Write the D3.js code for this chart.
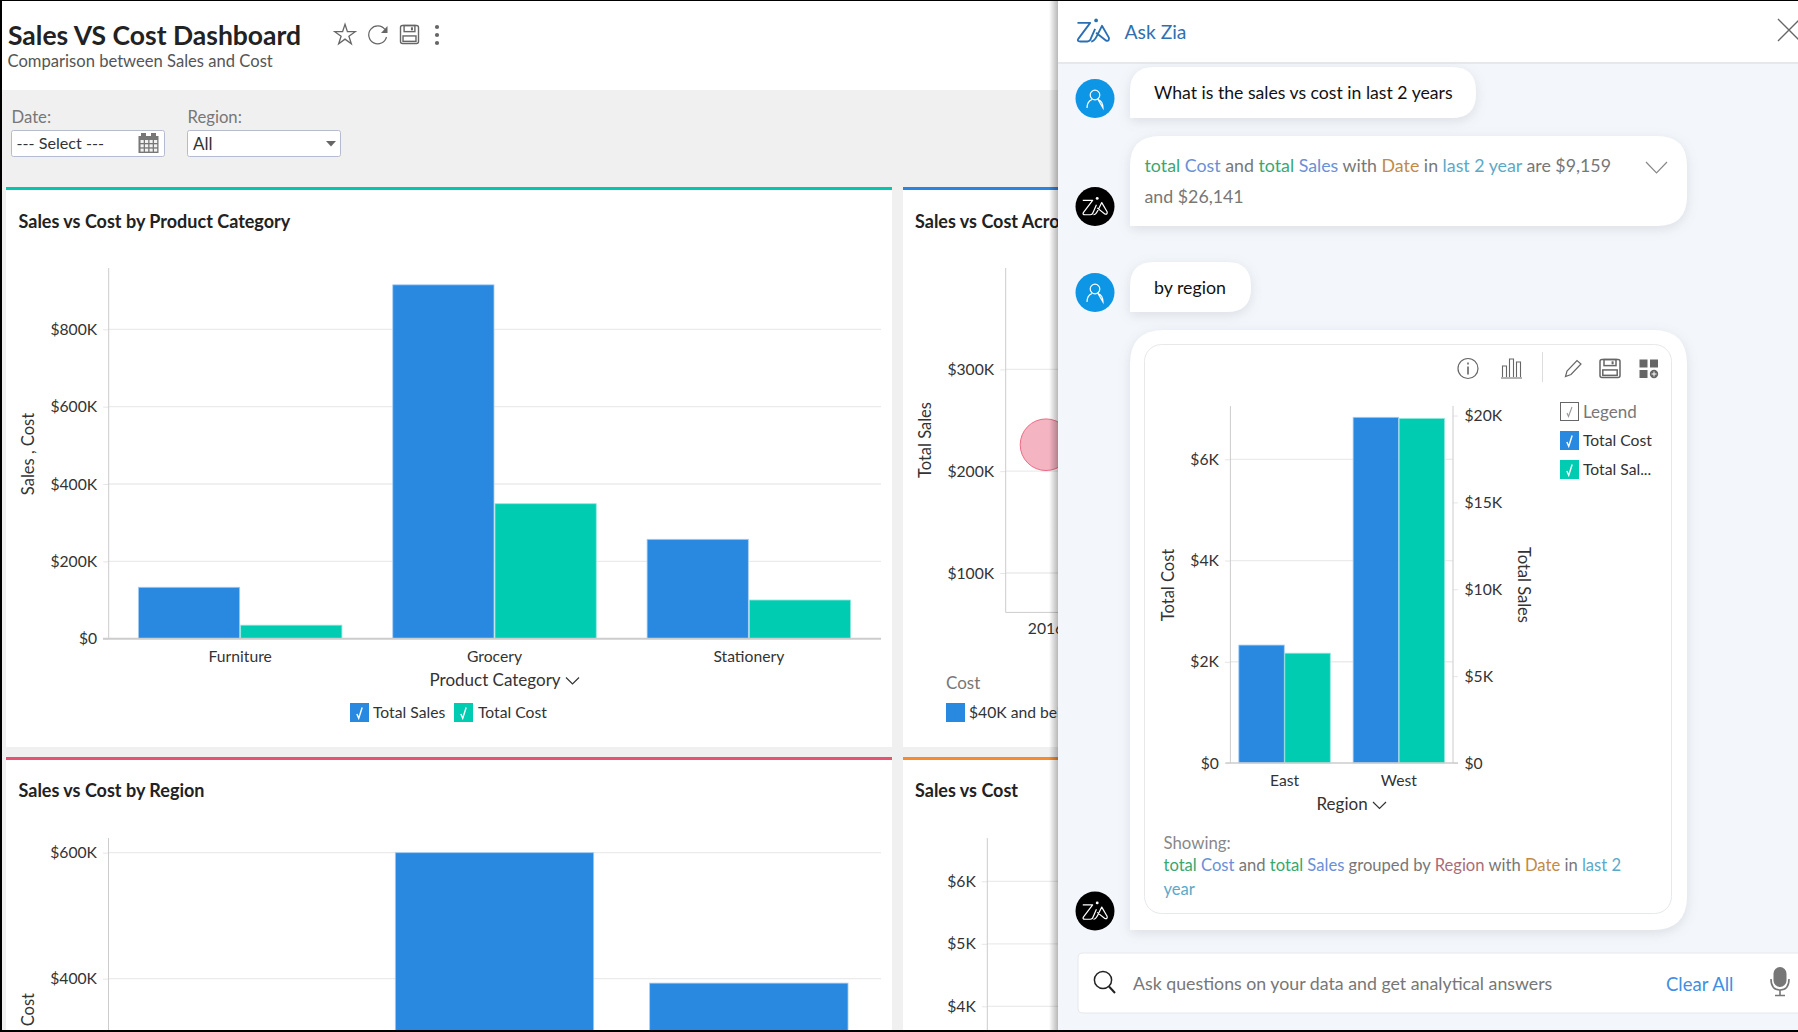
<!DOCTYPE html>
<html lang="en">
<head>
    <meta charset="UTF-8">
    <title>Sales VS Cost Dashboard</title>
    <script src="https://d3js.org/d3.v7.min.js"></script>
    <style>
        html, body { margin: 0; padding: 0; background: #fff; overflow: hidden; }
        svg { display: block; font-family: Lato, "Open Sans", sans-serif; }
    </style>
</head>
<body>
<svg id="page" width="1798" height="1032"></svg>
<script>
// Values are in thousands of dollars
const productCategories = ['Furniture', 'Grocery', 'Stationery'];
const productSales = [133, 915, 257];
const productCost = [35, 349, 100];
const productTicks = [0, 200, 400, 600, 800];

const regionSlots = ['first', 'second', 'third'];   // the labels are below the fold
const regionSales = [null, 600, 393];               // first bar is too short to be seen
const regionTicks = [400, 600];

const bubbleYears = ['2016'];
const bubbleSales = [226];
const bubbleTicks = [100, 200, 300];

const sideTicks = [4, 5, 6];

const ziaRegions = ['East', 'West'];
const ziaCost = [2.33, 6.83];
const ziaSales = [6.32, 19.83];
const ziaCostTicks = [0, 2, 4, 6];
const ziaSalesTicks = [0, 5, 10, 15, 20];

// Chat text, coloured by the kind of word
const GREEN = '#37a86f', BLUE = '#6b8fd6', GREY = '#777', ORANGE = '#c28a45', TEAL = '#5ba9c9', ROSE = '#a96c78';
const answerLine1 = [['total', GREEN], [' Cost', BLUE], [' and ', GREY], ['total', GREEN], [' Sales', BLUE], [' with ', GREY],
    ['Date', ORANGE], [' in ', GREY], ['last 2 year', TEAL], [' are $9,159', GREY]];
const answerLine2 = [['and $26,141', GREY]];
const showingLine1 = [['total', GREEN], [' Cost', BLUE], [' and ', GREY], ['total', GREEN], [' Sales', BLUE], [' grouped by ', GREY],
    ['Region', ROSE], [' with ', GREY], ['Date', ORANGE], [' in ', GREY], ['last 2', TEAL]];
const showingLine2 = [['year', TEAL]];

const BAR_BLUE = '#2989e1', BAR_GREEN = '#00ccb1';
const TICK_SIZE = 15.7, TITLE_SIZE = 18;
const svg = d3.select('#page');
const defs = svg.append('defs');

const money = d => d === 0 ? '$0' : '$' + d + 'K';

function text(parent, x, y, str, size, color, opts) {
    opts = opts || {};
    return parent.append('text')
        .attr('x', x).attr('y', y)
        .attr('font-size', size)
        .attr('fill', color)
        .attr('font-weight', opts.weight || 400)
        .attr('text-anchor', opts.anchor || 'start')
        .text(str);
}

function rotatedText(parent, x, y, str, size, angle, anchor) {
    return parent.append('text')
        .attr('transform', `translate(${x},${y}) rotate(${angle})`)
        .attr('font-size', size)
        .attr('fill', '#333')
        .attr('text-anchor', anchor || 'middle')
        .text(str);
}

function runs(parent, x, y, list, size) {
    const t = parent.append('text').attr('x', x).attr('y', y).attr('font-size', size).attr('xml:space', 'preserve');
    list.forEach(r => t.append('tspan').attr('fill', r[1]).text(r[0]));
}

function rect(parent, x, y, w, h, fill) {
    return parent.append('rect').attr('x', x).attr('y', y).attr('width', w).attr('height', h).attr('fill', fill);
}

function line(parent, x1, y1, x2, y2, color, width) {
    return parent.append('line').attr('x1', x1).attr('y1', y1).attr('x2', x2).attr('y2', y2)
        .attr('stroke', color).attr('stroke-width', width || 1);
}

function stroked(parent, d, color, width) {
    return parent.append('path').attr('d', d).attr('fill', 'none').attr('stroke', color).attr('stroke-width', width || 1.2);
}

function chevron(parent, x, y, w, h, color) {
    stroked(parent, `M${x},${y}L${x + w / 2},${y + h}L${x + w},${y}`, color, 1.2);
}

function checkbox(parent, x, y, s, fill) {
    rect(parent, x, y, s, s, fill);
    stroked(parent, `M${x + s * .36},${y + s * .58}L${x + s * .46},${y + s * .8}L${x + s * .64},${y + s * .24}`, '#fff', 1.4);
}

// Left axis: short ticks, grey labels, light grid to the right
function leftAxis(parent, y, ticks, axisX, topY, baseY, gridTo, fontSize) {
    const g = parent.append('g').attr('transform', `translate(${axisX},0)`)
        .call(d3.axisLeft(y).tickValues(ticks).tickFormat(money).tickSize(5.5).tickPadding(6));
    g.select('.domain').remove();
    g.selectAll('.tick line').attr('stroke', '#e6e6e6');
    g.selectAll('.tick text').attr('font-size', fontSize).attr('font-family', 'Lato').attr('fill', '#333');
    g.selectAll('.grid').data(ticks.filter(d => d > 0)).enter().append('line')
        .attr('x1', 0).attr('x2', gridTo - axisX)
        .attr('y1', d => y(d)).attr('y2', d => y(d))
        .attr('stroke', '#ebebeb').attr('stroke-width', 1.3);
    line(parent, axisX, topY, axisX, baseY, '#ccc', 1);
    return g;
}

function bars(parent, data, x, y, width, color, edge) {
    parent.append('g').selectAll('rect').data(data.filter(d => d.value != null)).enter().append('rect')
        .attr('x', d => x(d))
        .attr('y', d => y(d.value))
        .attr('width', width)
        .attr('height', d => y(0) - y(d.value))
        .attr('fill', color)
        .attr('stroke', edge)
        .attr('stroke-width', 0.8);
}

function saveIcon(parent, x, y, w, h, color, sw) {
    parent.append('rect').attr('x', x).attr('y', y).attr('width', w).attr('height', h).attr('rx', 2)
        .attr('fill', 'none').attr('stroke', color).attr('stroke-width', sw);
    parent.append('rect').attr('x', x + w * .2).attr('y', y).attr('width', w * .6).attr('height', h * .34)
        .attr('fill', 'none').attr('stroke', color).attr('stroke-width', sw);
    parent.append('rect').attr('x', x + w * .14).attr('y', y + h * .58).attr('width', w * .72).attr('height', h * .3)
        .attr('fill', 'none').attr('stroke', color).attr('stroke-width', sw);
    rect(parent, x + w * .58, y + h * .1, 2, 3, color);
}

function ziaLogo(parent, x, y, k, color, sw) {
    const g = parent.append('g').attr('transform', `translate(${x},${y}) scale(${k})`);
    stroked(g, 'M1,5 H14 L2,21 Q0,24 4,24 H11 Q14,24 15,20 L19,11', color, sw).attr('stroke-linejoin', 'round');
    stroked(g, 'M15,24 Q18,24 21,18 L26,8 L33,20 Q34,24 30,23 L20,15', color, sw).attr('stroke-linejoin', 'round');
    g.append('circle').attr('cx', 20).attr('cy', 2.5).attr('r', 1.9).attr('fill', color);
}

function avatarUser(parent, cx, cy) {
    parent.append('circle').attr('cx', cx).attr('cy', cy).attr('r', 19.5).attr('fill', '#0d96e6');
    parent.append('circle').attr('cx', cx).attr('cy', cy - 3.5).attr('r', 4.8).attr('fill', 'none').attr('stroke', '#fff').attr('stroke-width', 1.2);
    stroked(parent, `M${cx - 8},${cy + 9.5}Q${cx - 8},${cy + 3} ${cx - 3},${cy + 1}M${cx + 3},${cy + 1}Q${cx + 8},${cy + 3} ${cx + 8},${cy + 9.5}Z`, '#fff', 1.2);
}

function avatarZia(parent, cx, cy) {
    parent.append('circle').attr('cx', cx).attr('cy', cy).attr('r', 19.5).attr('fill', '#000');
    ziaLogo(parent, cx - 13, cy - 10, .76, '#fff', 1.6);
}

// Chat bubble: every corner round except the bottom left one
function bubble(parent, x, y, w, h, r) {
    const d = `M${x},${y + r}Q${x},${y} ${x + r},${y}H${x + w - r}Q${x + w},${y} ${x + w},${y + r}V${y + h - r}Q${x + w},${y + h} ${x + w - r},${y + h}H${x}Z`;
    parent.append('path').attr('d', d).attr('fill', '#fff')
        .style('filter', 'drop-shadow(0 3px 6px rgba(60,70,90,.13))');
}

// ---- Dashboard background and header ----
rect(svg, 0, 0, 1798, 1032, '#fff');
rect(svg, 2, 90, 1056, 942, '#f0f0f0');

text(svg, 8, 44.5, 'Sales VS Cost Dashboard', 26.5, '#222', {weight: 700});
text(svg, 7.5, 66.5, 'Comparison between Sales and Cost', 16.6, '#555');

const star = svg.append('path').attr('transform', 'translate(345,35)')
    .attr('d', d3.symbol().type(d3.symbolStar).size(130)())
    .attr('fill', 'none').attr('stroke', '#666').attr('stroke-width', 1.3);
stroked(svg, 'M385,29.5 A9,9 0 1 0 386.5,37', '#666', 1.2);
svg.append('path').attr('d', 'M387.5,26 V33 H381 Z').attr('fill', '#666');
saveIcon(svg, 400.5, 25.5, 18, 18, '#666', 1.4);
[27, 35, 43].forEach(cy => svg.append('circle').attr('cx', 437).attr('cy', cy).attr('r', 2.1).attr('fill', '#666'));

// ---- Filters ----
text(svg, 11.5, 122.5, 'Date:', 16.7, '#777');
rect(svg, 11.5, 130.5, 153, 26, '#fff').attr('stroke', '#b7bbcf').attr('rx', 2);
text(svg, 16.5, 149, '--- Select ---', 16.2, '#333');
rect(svg, 138.5, 136, 20, 17, '#777');
rect(svg, 141, 133, 5, 5, '#777');
rect(svg, 151, 133, 5, 5, '#777');
d3.range(3).forEach(r => d3.range(4).forEach(c => rect(svg, 140.5 + c * 4.5, 140 + r * 4.3, 3.2, 3, '#f2f2f2')));

text(svg, 187.5, 122.5, 'Region:', 16.7, '#777');
rect(svg, 187.5, 130.5, 153, 26, '#fff').attr('stroke', '#b7bbcf').attr('rx', 2);
text(svg, 193, 149.5, 'All', 17, '#333');
svg.append('path').attr('d', 'M326,141 H336 L331,146.5 Z').attr('fill', '#666');

// ---- Cards ----
rect(svg, 6, 187, 886, 560, '#fff');
rect(svg, 6, 187, 886, 3, '#00c8ad');
rect(svg, 903, 187, 155, 560, '#fff');
rect(svg, 903, 187, 155, 3, '#2a85e0');
rect(svg, 6, 757, 886, 275, '#fff');
rect(svg, 6, 757, 886, 3, '#e9526e');
rect(svg, 903, 757, 155, 275, '#fff');
rect(svg, 903, 757, 155, 3, '#f68b2e');

// ---- Card 1: by product category ----
const card1 = svg.append('g');
text(card1, 18.5, 228, 'Sales vs Cost by Product Category', TITLE_SIZE, '#222', {weight: 700});
const cat0 = d3.scaleBand().domain(productCategories).range([113, 876]).paddingInner(.2).paddingOuter(.1);
const catSeries = d3.scaleBand().domain(['sales', 'cost']).range([0, cat0.bandwidth()]).paddingInner(.0098);
const catY = d3.scaleLinear().domain([0, 800]).range([638.7, 329.3]);
leftAxis(card1, catY, productTicks, 108.7, 268, 638.7, 881, TICK_SIZE);
bars(card1, productCategories.map((c, i) => ({c, value: productSales[i]})), d => cat0(d.c) + catSeries('sales'), catY, catSeries.bandwidth(), BAR_BLUE, '#a5cdf3');
bars(card1, productCategories.map((c, i) => ({c, value: productCost[i]})), d => cat0(d.c) + catSeries('cost'), catY, catSeries.bandwidth(), BAR_GREEN, '#8ee8da');
line(card1, 103, 638.7, 881, 638.7, '#ccc', 2);
const catAxis = card1.append('g').attr('transform', 'translate(0,638.7)')
    .call(d3.axisBottom(cat0).tickSize(0).tickPadding(12));
catAxis.select('.domain').remove();
catAxis.selectAll('text').attr('font-size', TICK_SIZE).attr('font-family', 'Lato').attr('fill', '#333');
rotatedText(card1, 33.5, 454, 'Sales , Cost', 16.5, -90);
text(card1, 429.5, 685.5, 'Product Category', 17, '#333');
chevron(card1, 566, 677.5, 13, 6.5, '#333');
checkbox(card1, 350, 703, 19, BAR_BLUE);
text(card1, 373, 717.5, 'Total Sales', TICK_SIZE, '#333');
checkbox(card1, 454, 703, 19, BAR_GREEN);
text(card1, 478, 717.5, 'Total Cost', TICK_SIZE, '#333');

// ---- Card 2: bubble chart, cut off by the Zia panel ----
const card2 = svg.append('g');
text(card2, 915, 228, 'Sales vs Cost Acro', TITLE_SIZE, '#222', {weight: 700});
const bubbleY = d3.scaleLinear().domain([100, 300]).range([573, 369.4]);
leftAxis(card2, bubbleY, bubbleTicks, 1005.7, 268, 612.4, 1058, TICK_SIZE);
line(card2, 1005.7, 612.4, 1058, 612.4, '#ccc', 1);
const bubbleX = d3.scaleBand().domain(bubbleYears).range([1005.7, 1086.3]);
card2.append('g').selectAll('circle').data(bubbleSales).enter().append('circle')
    .attr('cx', (d, i) => bubbleX(bubbleYears[i]) + bubbleX.bandwidth() / 2)
    .attr('cy', d => bubbleY(d))
    .attr('r', 25.8)
    .attr('fill', '#f5b4c2').attr('stroke', '#ec6b85');
card2.append('g').attr('transform', 'translate(0,612.4)')
    .call(d3.axisBottom(bubbleX).tickSize(0).tickPadding(10))
    .call(g => g.select('.domain').remove())
    .call(g => g.selectAll('text').attr('font-size', TICK_SIZE).attr('font-family', 'Lato').attr('fill', '#333'));
rotatedText(card2, 931, 440, 'Total Sales', 16.5, -90);
text(card2, 946, 688.5, 'Cost', 17, '#777');
rect(card2, 946, 703, 19, 19, BAR_BLUE);
text(card2, 969, 717.5, '$40K and bel', TICK_SIZE, '#333');

// ---- Card 3: by region, runs off the bottom of the page ----
const card3 = svg.append('g');
text(card3, 18.5, 797, 'Sales vs Cost by Region', TITLE_SIZE, '#222', {weight: 700});
const regX = d3.scaleBand().domain(regionSlots).range([113, 876]).paddingInner(.22).paddingOuter(.11);
const regY = d3.scaleLinear().domain([0, 600]).range([1230.7, 852.7]);
leftAxis(card3, regY, regionTicks, 108.5, 838, 1032, 881, TICK_SIZE);
bars(card3, regionSlots.map((c, i) => ({c, value: regionSales[i]})), d => regX(d.c), regY, regX.bandwidth(), BAR_BLUE, '#a5cdf3');
rotatedText(card3, 33.5, 993, 'Cost', 16.5, -90, 'end');

// ---- Card 4: cost axis only ----
const card4 = svg.append('g');
text(card4, 915, 797, 'Sales vs Cost', TITLE_SIZE, '#222', {weight: 700});
const sideY = d3.scaleLinear().domain([4, 6]).range([1006.3, 881.3]);
leftAxis(card4, sideY, sideTicks, 987.3, 838, 1032, 1058, TICK_SIZE);

// ---- Zia panel ----
const shade = defs.append('linearGradient').attr('id', 'panelShade');
shade.append('stop').attr('offset', '0').attr('stop-color', '#000').attr('stop-opacity', 0);
shade.append('stop').attr('offset', '1').attr('stop-color', '#000').attr('stop-opacity', .28);
rect(svg, 1049, 0, 9, 1032, 'url(#panelShade)');

const panel = svg.append('g');
rect(panel, 1058, 0, 740, 1032, '#f3f6fa');
rect(panel, 1058, 0, 740, 62, '#fff');
rect(panel, 1058, 62, 740, 2, '#e6e8ea');
ziaLogo(panel, 1076.5, 18, .98, '#2b6fb3', 1.9);
text(panel, 1124.5, 38.5, 'Ask Zia', 19.3, '#2e70b2');
stroked(panel, 'M1778,19L1800,41M1778,41L1800,19', '#666', 1.3);

avatarUser(panel, 1095, 98.5);
bubble(panel, 1130, 67, 346, 51, 24);
text(panel, 1154, 98.5, 'What is the sales vs cost in last 2 years', 17.65, '#111');

avatarZia(panel, 1095, 206.5);
bubble(panel, 1130, 136, 557, 90, 30);
runs(panel, 1144.5, 172, answerLine1, 17.8);
runs(panel, 1144.5, 202.5, answerLine2, 17.8);
chevron(panel, 1646, 162, 21, 11, '#888');

avatarUser(panel, 1095, 292.5);
bubble(panel, 1130, 262, 121, 50, 24);
text(panel, 1154, 294, 'by region', 17.8, '#111');

avatarZia(panel, 1095, 911);
bubble(panel, 1130, 330, 557, 600, 34);
panel.append('rect').attr('x', 1144.5).attr('y', 344.5).attr('width', 527).attr('height', 569)
    .attr('rx', 17).attr('fill', '#fff').attr('stroke', '#e6e8ea');

// toolbar
panel.append('circle').attr('cx', 1468).attr('cy', 368.5).attr('r', 10).attr('fill', 'none').attr('stroke', '#666').attr('stroke-width', 1.2);
rect(panel, 1467.2, 366.5, 1.6, 8, '#666');
rect(panel, 1467.2, 362.5, 1.6, 2, '#666');
stroked(panel, 'M1501,378H1522M1502.5,377V366H1506.5V377M1509.5,377V359H1513.5V377M1516.5,377V362H1520.5V377', '#666', 1.1);
line(panel, 1542.5, 352, 1542.5, 382, '#ddd', 1);
stroked(panel, 'M1565.5,376.5L1567,371L1577,360.5L1581,364L1571,374.5Z', '#666', 1.2);
saveIcon(panel, 1600, 359.5, 20, 18, '#666', 1.5);
rect(panel, 1639.5, 359.5, 8, 8, '#666');
rect(panel, 1650, 359.5, 8, 8, '#666');
rect(panel, 1639.5, 370, 8, 8, '#666');
panel.append('circle').attr('cx', 1654).attr('cy', 374).attr('r', 4.2).attr('fill', '#666');
stroked(panel, 'M1651.5,374H1656.5M1654,371.5V376.5', '#fff', 1);

// legend
rect(panel, 1560.5, 402.5, 18, 18, '#fff').attr('stroke', '#666');
stroked(panel, 'M1567,413L1568.5,416.5L1572,407', '#999', 1.1);
text(panel, 1583, 418, 'Legend', 17, '#777');
checkbox(panel, 1560, 431, 19, BAR_BLUE);
text(panel, 1583, 446, 'Total Cost', TICK_SIZE, '#333');
checkbox(panel, 1560, 460, 19, BAR_GREEN);
text(panel, 1583, 475, 'Total Sal...', TICK_SIZE, '#333');

// dual axis chart
const ziaX = d3.scaleBand().domain(ziaRegions).range([1227.4, 1456]).paddingInner(.2).paddingOuter(.1);
const ziaSeries = d3.scaleBand().domain(['cost', 'sales']).range([0, ziaX.bandwidth()]).paddingInner(.012);
const ziaCostY = d3.scaleLinear().domain([0, 6]).range([763, 459.3]);
const ziaSalesY = d3.scaleLinear().domain([0, 20]).range([763, 415.5]);
leftAxis(panel, ziaCostY, ziaCostTicks, 1230.4, 406, 763, 1453, TICK_SIZE);
const rightG = panel.append('g').attr('transform', 'translate(1453,0)')
    .call(d3.axisRight(ziaSalesY).tickValues(ziaSalesTicks).tickFormat(money).tickSize(5).tickPadding(6.5));
rightG.select('.domain').remove();
rightG.selectAll('.tick line').attr('stroke', '#e6e6e6');
rightG.selectAll('.tick text').attr('font-size', TICK_SIZE).attr('font-family', 'Lato').attr('fill', '#333');
line(panel, 1453, 406, 1453, 763, '#ccc', 1);
bars(panel, ziaRegions.map((c, i) => ({c, value: ziaCost[i]})), d => ziaX(d.c) + ziaSeries('cost'), ziaCostY, ziaSeries.bandwidth(), BAR_BLUE, '#a5cdf3');
bars(panel, ziaRegions.map((c, i) => ({c, value: ziaSales[i]})), d => ziaX(d.c) + ziaSeries('sales'), ziaSalesY, ziaSeries.bandwidth(), BAR_GREEN, '#8ee8da');
line(panel, 1225.5, 763, 1458, 763, '#ccc', 1.4);
const ziaAxis = panel.append('g').attr('transform', 'translate(0,763)')
    .call(d3.axisBottom(ziaX).tickSize(0).tickPadding(12));
ziaAxis.select('.domain').remove();
ziaAxis.selectAll('text').attr('font-size', TICK_SIZE).attr('font-family', 'Lato').attr('fill', '#333');
rotatedText(panel, 1173.5, 585, 'Total Cost', 16.5, -90);
rotatedText(panel, 1518, 585, 'Total Sales', 16.5, 90);
text(panel, 1316.5, 809.5, 'Region', 17, '#333');
chevron(panel, 1373, 802, 13, 6.5, '#333');

text(panel, 1163.5, 848.5, 'Showing:', 16.8, '#888');
runs(panel, 1163.5, 871, showingLine1, 16.6);
runs(panel, 1163.5, 895, showingLine2, 16.6);

// question box
panel.append('rect').attr('x', 1078).attr('y', 953).attr('width', 730).attr('height', 60)
    .attr('rx', 4).attr('fill', '#fff').attr('stroke', '#e6e8ea');
panel.append('circle').attr('cx', 1103).attr('cy', 980).attr('r', 8.6).attr('fill', 'none').attr('stroke', '#222').attr('stroke-width', 1.5);
line(panel, 1109, 986.5, 1115, 993, '#222', 2);
text(panel, 1133, 989.5, 'Ask questions on your data and get analytical answers', 17.75, '#777');
text(panel, 1666, 990.5, 'Clear All', 18.5, '#3f8fe4');
panel.append('rect').attr('x', 1773.5).attr('y', 967).attr('width', 13).attr('height', 20).attr('rx', 6.5).attr('fill', '#777');
stroked(panel, 'M1771,979Q1771,990 1780,990Q1789,990 1789,979M1780,990V995M1775,995.5H1785', '#777', 1.6);

// ---- Screenshot frame ----
rect(svg, 0, 0, 1798, 1, '#000');
rect(svg, 0, 0, 2, 1032, '#000');
rect(svg, 0, 1030, 1798, 2, '#000');
</script>
</body>
</html>
